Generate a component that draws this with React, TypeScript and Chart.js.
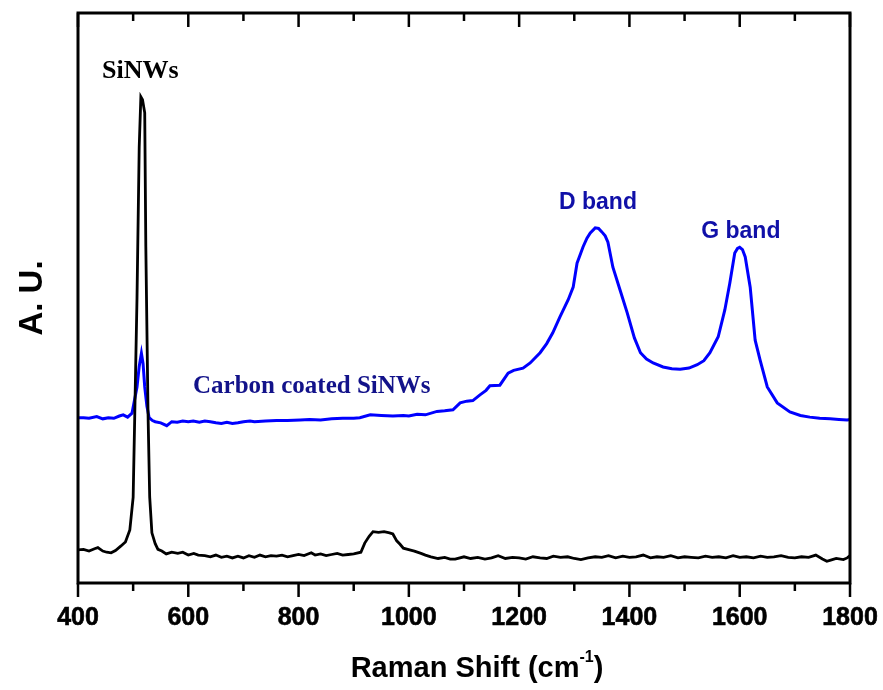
import React, { useEffect, useRef } from "react";
import { Chart, registerables } from "chart.js";
Chart.register(...registerables);

// SiNWs (black) spectrum: Raman shift (cm^-1) and intensity (A.U.)
const siX = [400, 410, 420, 430, 436, 445, 452, 460, 468, 478, 486, 494, 500, 503, 507, 511, 514, 517, 521, 523, 527, 530, 534, 540, 545,
  552, 560, 570, 581, 590, 600, 610, 618, 630, 640, 650, 660, 670, 680, 690, 700, 710, 720, 730, 740, 750, 760, 770, 780, 790,
  800, 810, 823, 830, 840, 850, 860, 870, 880, 890, 900, 913, 920, 928, 935, 945, 955, 965, 971, 978, 984, 990, 998, 1010, 1022,
  1030, 1040, 1053, 1065, 1075, 1084, 1100, 1112, 1125, 1138, 1150, 1162, 1175, 1188, 1200, 1212, 1225, 1238, 1250, 1262, 1275,
  1288, 1300, 1312, 1325, 1338, 1350, 1362, 1375, 1388, 1400, 1412, 1425, 1438, 1450, 1462, 1475, 1488, 1500, 1512, 1525, 1538,
  1550, 1562, 1575, 1588, 1600, 1612, 1625, 1638, 1650, 1662, 1675, 1688, 1700, 1712, 1725, 1738, 1750, 1758, 1765, 1775, 1788,
  1795, 1800];
const siY = [5.8, 5.9, 5.6, 6.0, 6.2, 5.6, 5.4, 5.3, 5.7, 6.5, 7.2, 9.3, 15.0, 29.8, 50.0, 76.5, 85.3, 84.8, 82.5, 59.0, 29.8, 15.1, 8.8, 6.9, 5.9,
  5.6, 5.1, 5.4, 5.2, 5.4, 4.9, 5.2, 4.9, 4.8, 4.6, 4.9, 4.5, 4.7, 4.4, 4.7, 4.4, 4.8, 4.5, 4.9, 4.6, 4.8, 4.7, 4.9, 4.6, 4.8,
  5.0, 4.8, 5.3, 4.9, 5.1, 4.8, 5.0, 5.2, 4.9, 5.0, 5.1, 5.4, 7.0, 8.2, 9.0, 8.9, 9.0, 8.8, 8.6, 7.4, 6.8, 6.1, 5.9, 5.6, 5.2,
  4.9, 4.6, 4.3, 4.5, 4.2, 4.2, 4.6, 4.3, 4.5, 4.2, 4.4, 4.8, 4.3, 4.5, 4.4, 4.2, 4.6, 4.4, 4.3, 4.7, 4.5,
  4.6, 4.3, 4.1, 4.4, 4.6, 4.5, 4.8, 4.4, 4.7, 4.5, 4.6, 4.9, 4.4, 4.6, 4.5, 4.8, 4.4, 4.6, 4.5, 4.4, 4.7,
  4.5, 4.6, 4.4, 4.8, 4.5, 4.6, 4.4, 4.7, 4.5, 4.6, 4.8, 4.5, 4.4, 4.6, 4.5, 4.9, 4.2, 3.8, 4.0, 4.3, 4.1,
  4.4, 4.8];

// Carbon coated SiNWs (blue) spectrum
const ccX = [400, 410, 420, 434, 445, 455, 465, 475, 482, 490, 498, 507, 511, 515, 518, 521, 525, 529, 535, 540, 550, 561, 570,
  580, 590, 600, 609, 620, 630, 640, 650, 660, 670, 680, 690, 700, 712, 720, 740, 760, 780, 803, 820, 840, 860, 880, 900, 911,
  930, 950, 971, 990, 1000, 1015, 1030, 1051, 1065, 1080, 1093, 1105, 1116, 1129, 1140, 1147, 1165, 1180, 1190, 1207, 1220,
  1238, 1250, 1261, 1274, 1289, 1298, 1305, 1316, 1323, 1329, 1338, 1344, 1350, 1356, 1361, 1370, 1383, 1396, 1409, 1420, 1431, 1443, 1461,
  1477, 1492, 1508, 1523, 1535, 1546, 1561, 1573, 1582, 1591, 1596, 1600, 1605, 1610, 1619, 1628, 1637, 1650, 1668, 1691, 1710, 1727, 1745,
  1764, 1780, 1795, 1800];
const ccY = [29.0, 29.0, 28.9, 29.2, 28.8, 29.0, 28.9, 29.3, 29.5, 29.1, 29.8, 34.4, 38.0, 40.3, 38.5, 34.4, 31.0, 29.0, 28.5, 28.3, 28.1, 27.6, 28.3,
  28.2, 28.4, 28.3, 28.4, 28.2, 28.4, 28.3, 28.1, 28.0, 28.2, 28.0, 28.1, 28.3, 28.4, 28.3, 28.4, 28.5, 28.5, 28.6, 28.7, 28.6, 28.8, 28.9, 28.9, 29.0,
  29.5, 29.4, 29.3, 29.4, 29.3, 29.6, 29.5, 30.1, 30.2, 30.4, 31.6, 31.9, 32.0, 33.0, 33.8, 34.6, 34.7, 36.8, 37.3, 37.7, 38.6,
  40.4, 42.0, 43.9, 46.7, 49.7, 51.9, 56.1, 59.0, 60.5, 61.4, 62.3, 62.2, 61.6, 60.9, 59.8, 55.4, 51.4, 47.4, 43.0, 40.4, 39.3, 38.6, 37.9,
  37.6, 37.5, 37.7, 38.3, 39.0, 40.4, 43.2, 47.9, 52.6, 57.9, 58.7, 58.9, 58.5, 57.2, 51.9, 42.6, 39.1, 34.4, 31.6, 30.0, 29.4, 29.1, 28.9,
  28.8, 28.7, 28.6, 28.7];

const majorTicks = [400, 600, 800, 1000, 1200, 1400, 1600, 1800];
const minorTicks = [500, 700, 900, 1100, 1300, 1500, 1700];

const annTexts = ["SiNWs", "Carbon coated SiNWs", "D band", "G band"];
const annX = [513, 824, 1343, 1602];
const annY = [88.6, 33.4, 65.6, 60.6];
const annColors = ["#000000", "#12128a", "#1010a8", "#1010a8"];
const annFonts = [
  "bold 26px 'Liberation Serif', 'Times New Roman', serif",
  "bold 25px 'Liberation Serif', 'Times New Roman', serif",
  "bold 23px 'Liberation Sans', Arial, sans-serif",
  "bold 23px 'Liberation Sans', Arial, sans-serif",
];

const SANS = "'Liberation Sans', Arial, sans-serif";

const framePlugin = {
  id: "framePlugin",
  afterDraw(chart: any) {
    const ctx = chart.ctx;
    const { left, right, top, bottom } = chart.chartArea;
    const xs = chart.scales.x;
    const ys = chart.scales.y;
    ctx.save();
    // frame
    ctx.strokeStyle = "#000";
    ctx.lineWidth = 3;
    ctx.strokeRect(left, top, right - left, bottom - top);
    // ticks
    ctx.lineWidth = 2.5;
    const drawTick = (v: number, len: number) => {
      const px = xs.getPixelForValue(v);
      ctx.beginPath();
      ctx.moveTo(px, bottom);
      ctx.lineTo(px, bottom + len);
      ctx.moveTo(px, top);
      ctx.lineTo(px, top + len);
      ctx.stroke();
    };
    majorTicks.forEach((v) => drawTick(v, 14));
    minorTicks.forEach((v) => drawTick(v, 8));
    // tick labels
    ctx.fillStyle = "#000";
    ctx.strokeStyle = "#000";
    ctx.lineWidth = 0.6;
    ctx.font = `bold 25px ${SANS}`;
    ctx.textAlign = "center";
    ctx.textBaseline = "alphabetic";
    majorTicks.forEach((v) => {
      ctx.fillText(String(v), xs.getPixelForValue(v), bottom + 42);
      ctx.strokeText(String(v), xs.getPixelForValue(v), bottom + 42);
    });
    // x title with superscript
    const mainFont = `bold 29px ${SANS}`;
    const supFont = `bold 16px ${SANS}`;
    const p1 = "Raman Shift (cm";
    const sup = "-1";
    const p2 = ")";
    ctx.font = mainFont;
    const w1 = ctx.measureText(p1).width;
    const w3 = ctx.measureText(p2).width;
    ctx.font = supFont;
    const w2 = ctx.measureText(sup).width;
    const total = w1 + w2 + w3;
    const cx = (left + right) / 2 + 13;
    let sx = cx - total / 2;
    const by = bottom + 94;
    ctx.textAlign = "left";
    ctx.font = mainFont;
    ctx.fillText(p1, sx, by);
    sx += w1;
    ctx.font = supFont;
    ctx.fillText(sup, sx, by - 15);
    sx += w2;
    ctx.font = mainFont;
    ctx.fillText(p2, sx, by);
    // y title
    ctx.save();
    ctx.translate(left - 45, (top + bottom) / 2);
    ctx.rotate(-Math.PI / 2);
    ctx.font = `bold 33px ${SANS}`;
    ctx.textAlign = "center";
    ctx.textBaseline = "middle";
    ctx.fillText("A. U.", 0, 0);
    ctx.restore();
    // annotations
    ctx.textAlign = "center";
    ctx.textBaseline = "alphabetic";
    annTexts.forEach((t, i) => {
      ctx.font = annFonts[i];
      ctx.fillStyle = annColors[i];
      ctx.fillText(t, xs.getPixelForValue(annX[i]), ys.getPixelForValue(annY[i]));
    });
    ctx.restore();
  },
};

export default function App() {
  const ref = useRef<HTMLCanvasElement | null>(null);
  useEffect(() => {
    if (!ref.current) return;
    const chart = new Chart(ref.current, {
      type: "line",
      data: {
        datasets: [
          {
            label: "SiNWs",
            data: siX.map((x, i) => ({ x, y: siY[i] })),
            borderColor: "#000000",
            borderWidth: 2.8,
            pointRadius: 0,
            tension: 0,
          },
          {
            label: "Carbon coated SiNWs",
            data: ccX.map((x, i) => ({ x, y: ccY[i] })),
            borderColor: "#0000ff",
            borderWidth: 3,
            pointRadius: 0,
            tension: 0,
          },
        ],
      },
      options: {
        animation: false,
        responsive: true,
        maintainAspectRatio: false,
        layout: { padding: { left: 78, top: 13, right: 33, bottom: 107 } },
        plugins: { legend: { display: false }, tooltip: { enabled: false } },
        scales: {
          x: { type: "linear", min: 400, max: 1800, display: false },
          y: { type: "linear", min: 0, max: 100, display: false },
        },
      },
      plugins: [framePlugin],
    });
    return () => chart.destroy();
  }, []);
  return (
    <div style={{ position: "fixed", left: 0, top: 0, width: 883, height: 690, background: "#fff" }}>
      <canvas ref={ref} />
    </div>
  );
}
